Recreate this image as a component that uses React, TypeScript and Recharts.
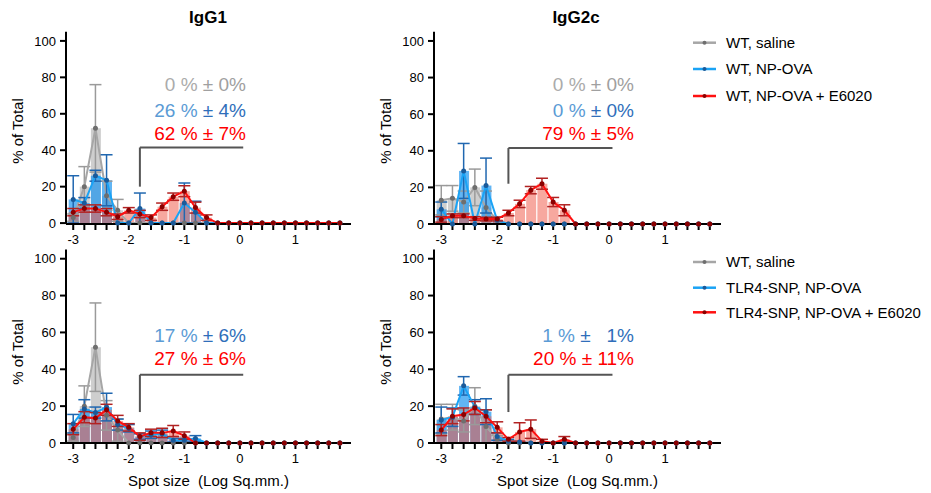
import React from "react";
import { ComposedChart, Bar, Line, XAxis, YAxis, ErrorBar, ReferenceLine } from "recharts";

const FONT = "'Liberation Sans', Arial, Helvetica, sans-serif";

// spot size bins (Log Sq.mm.)
const BINS = [-3, -2.8, -2.6, -2.4, -2.2, -2, -1.8, -1.6, -1.4, -1.2, -1, -0.8, -0.6, -0.4, -0.2, 0, 0.2, 0.4, 0.6, 0.8, 1, 1.2, 1.4, 1.6, 1.8];
const Y_TICKS = [0, 20, 40, 60, 80, 100];

const _ = null;

// IgG1, WT saline (shown in both rows)
const IGG1_SALINE = [3, 20, 52, 15, 7, 0, 0, 0, 0, 0, 0, 0, 0, 0, 0, 0, 0, 0, 0, 0, 0, 0, 0, 0, 0];
const IGG1_SALINE_ERR = [2, 11, 24, 8, 6, _, _, _, _, _, _, _, _, _, _, _, _, _, _, _, _, _, _, _, _];
// IgG1, WT NP-OVA
const IGG1_WT_OVA = [13, 11, 26, 23.5, 0, 0, 8, 0, 0, 0, 11, 6, 0, 0, 0, 0, 0, 0, 0, 0, 0, 0, 0, 0, 0];
const IGG1_WT_OVA_ERR = [13, 3, 3, 14, _, _, 8.5, _, _, _, 11, 6, _, _, _, _, _, _, _, _, _, _, _, _, _];
// IgG1, WT NP-OVA + E6020
const IGG1_WT_E6020 = [6, 8, 8, 6, 3.5, 7, 5, 3, 9, 14.5, 17.5, 8.5, 3, 0, 0, 0, 0, 0, 0, 0, 0, 0, 0, 0, 0];
const IGG1_WT_E6020_ERR = [2, 2, 2, 2, 1.5, 1.5, 2, 1.5, 2, 2, 3, 3, 1.5, _, _, _, _, _, _, _, _, _, _, _, _];
// IgG1, TLR4-SNP NP-OVA
const IGG1_SNP_OVA = [10.5, 18.5, 16.5, 19.5, 10, 8, 3.5, 4.5, 5, 1.5, 1.5, 2.5, 0, 0, 0, 0, 0, 0, 0, 0, 0, 0, 0, 0, 0];
const IGG1_SNP_OVA_ERR = [5, 5, 3, 7.5, 3, 2, 1.5, 2, 2, 1, 1, 1.5, _, _, _, _, _, _, _, _, _, _, _, _, _];
// IgG1, TLR4-SNP NP-OVA + E6020
const IGG1_SNP_E6020 = [7.5, 14, 13.5, 18, 12, 8.5, 3.5, 5.5, 5.5, 6.5, 4, 0, 0, 0, 0, 0, 0, 0, 0, 0, 0, 0, 0, 0, 0];
const IGG1_SNP_E6020_ERR = [3, 3, 3, 3, 3, 2, 2, 2, 2.5, 3, 2, _, _, _, _, _, _, _, _, _, _, _, _, _, _];

// IgG2c, WT saline (shown in both rows)
const IGG2C_SALINE = [13, 14, 12, 20, 9, 2, 0, 0, 0, 0, 0, 0, 0, 0, 0, 0, 0, 0, 0, 0, 0, 0, 0, 0, 0];
const IGG2C_SALINE_ERR = [8, 7, 6, 10, 9, 2, _, _, _, _, _, _, _, _, _, _, _, _, _, _, _, _, _, _, _];
// IgG2c, WT NP-OVA
const IGG2C_WT_OVA = [8, 0, 29, 0, 21, 2, 0, 0, 0, 0, 0, 0, 0, 0, 0, 0, 0, 0, 0, 0, 0, 0, 0, 0, 0];
const IGG2C_WT_OVA_ERR = [4, _, 15, _, 15, _, _, _, _, _, _, _, _, _, _, _, _, _, _, _, _, _, _, _, _];
// IgG2c, WT NP-OVA + E6020
const IGG2C_WT_E6020 = [2.5, 4.5, 4.5, 3, 2.7, 2.7, 6, 11, 18.5, 22, 12, 7.5, 0, 0, 0, 0, 0, 0, 0, 0, 0, 0, 0, 0, 0];
const IGG2C_WT_E6020_ERR = [1.5, 1, 1, 1, 1, 1, 1.5, 2, 2, 3, 2.5, 3, _, _, _, _, _, _, _, _, _, _, _, _, _];
// IgG2c, TLR4-SNP NP-OVA
const IGG2C_SNP_OVA = [12.5, 14, 31, 19.5, 17, 3.5, 1, 0.5, 0, 0, 0, 0, 0, 0, 0, 0, 0, 0, 0, 0, 0, 0, 0, 0, 0];
const IGG2C_SNP_OVA_ERR = [7, 5, 5, 4, 7, 2, 1, _, _, _, _, _, _, _, _, _, _, _, _, _, _, _, _, _, _];
// IgG2c, TLR4-SNP NP-OVA + E6020
const IGG2C_SNP_E6020 = [7, 14.5, 15.5, 19, 14.5, 8.5, 2, 6, 7.5, 1, 0, 2, 0, 0, 0, 0, 0, 0, 0, 0, 0, 0, 0, 0, 0];
const IGG2C_SNP_E6020_ERR = [3, 4, 3.5, 3.5, 3.5, 3, 1, 5, 5, 1, _, 1.5, _, _, _, _, _, _, _, _, _, _, _, _, _];

const TOP_LEGEND = ["WT, saline", "WT, NP-OVA", "WT, NP-OVA + E6020"];
const BOTTOM_LEGEND = ["WT, saline", "TLR4-SNP, NP-OVA", "TLR4-SNP, NP-OVA + E6020"];

const GREY = { line: "#a6a6a6", dot: "#6e6e6e", bar: "#9e9e9e", err: "#9a9a9a" };
const BLUE = { line: "#1aa3f5", dot: "#1a5a9a", bar: "#1e96f0", err: "#2067b0" };
const RED = { line: "#ff1010", dot: "#8b0000", bar: "#f06050", err: "#b22222" };

type Row = { x: number; g: number; gE: number | null; b: number; bE: number | null; r: number; rE: number | null };

function makeRows(g: number[], gE: (number | null)[], b: number[], bE: (number | null)[], r: number[], rE: (number | null)[]): Row[] {
  return BINS.map((x, i) => ({ x, g: g[i], gE: gE[i], b: b[i], bE: bE[i], r: r[i], rE: rE[i] }));
}

const fmtX = (v: number) => (Math.abs(v - Math.round(v)) < 1e-6 ? String(Math.round(v)) : "");

const axisStyle = { stroke: "#000", strokeWidth: 2 };
const tickStyle = { fill: "#000", fontSize: 13, fontFamily: FONT };

type PanelProps = {
  data: Row[];
  left: number;
  top: number;
  height: number;
  marginTop: number;
  plotW: number;
  xAxisHeight: number;
  bracket: [number, number];
  yLabelY: number;
  xLabel?: string;
};

function Panel({ data, left, top, height, marginTop, plotW, xAxisHeight, bracket, yLabelY, xLabel }: PanelProps) {
  const W = 400;
  return (
    <div style={{ position: "absolute", left, top }}>
      <ComposedChart
        width={W}
        height={height}
        data={data}
        margin={{ top: marginTop, right: W - 66 - plotW, left: 0, bottom: 0 }}
        barSize={10}
        barGap={-10}
      >
        <XAxis
          dataKey="x"
          type="number"
          domain={[-3.13, 2]}
          ticks={BINS}
          interval={0}
          tickFormatter={fmtX}
          height={xAxisHeight}
          axisLine={axisStyle}
          tickLine={axisStyle}
          tickSize={6}
          tickMargin={5}
          tick={tickStyle}
          label={xLabel ? { value: xLabel, position: "insideBottom", offset: 7, fill: "#000", fontSize: 15, fontFamily: FONT } : undefined}
        />
        <YAxis
          type="number"
          domain={[0, 105]}
          ticks={Y_TICKS}
          interval={0}
          width={66}
          axisLine={axisStyle}
          tickLine={axisStyle}
          tickSize={6}
          tickMargin={4}
          tick={tickStyle}
          label={() => (
            <text x={17} y={yLabelY} transform={`rotate(-90 17 ${yLabelY})`} textAnchor="middle" dominantBaseline="central" fontSize={15} fontFamily={FONT} fill="#000">
              % of Total
            </text>
          )}
        />
        <Bar dataKey="g" fill={GREY.bar} fillOpacity={0.5} isAnimationActive={false} />
        <Bar dataKey="b" fill={BLUE.bar} fillOpacity={0.7} isAnimationActive={false} />
        <Bar dataKey="r" fill={RED.bar} fillOpacity={0.55} isAnimationActive={false} />
        <Line dataKey="g" stroke={GREY.line} strokeWidth={2} dot={{ r: 2.5, fill: GREY.dot, stroke: GREY.dot, strokeWidth: 0 }} activeDot={false} isAnimationActive={false}>
          <ErrorBar dataKey="gE" width={6} stroke={GREY.err} strokeWidth={1.5} direction="y" />
        </Line>
        <Line dataKey="b" stroke={BLUE.line} strokeWidth={2} dot={{ r: 2.5, fill: BLUE.dot, stroke: BLUE.dot, strokeWidth: 0 }} activeDot={false} isAnimationActive={false}>
          <ErrorBar dataKey="bE" width={6} stroke={BLUE.err} strokeWidth={1.5} direction="y" />
        </Line>
        <Line dataKey="r" stroke={RED.line} strokeWidth={2} dot={{ r: 2.5, fill: RED.dot, stroke: RED.dot, strokeWidth: 0 }} activeDot={false} isAnimationActive={false}>
          <ErrorBar dataKey="rE" width={6} stroke={RED.err} strokeWidth={1.5} direction="y" />
        </Line>
        <ReferenceLine segment={[{ x: -1.8, y: bracket[0] }, { x: -1.8, y: bracket[1] }]} stroke="#555" strokeWidth={2} />
        <ReferenceLine segment={[{ x: -1.8, y: bracket[1] }, { x: 0.06, y: bracket[1] }]} stroke="#555" strokeWidth={2} />
      </ComposedChart>
    </div>
  );
}

function Annot({ x, y, a, b, ca, cb }: { x: number; y: number; a: string; b: string; ca: string; cb: string }) {
  return (
    <text x={x} y={y} textAnchor="end" fontSize={19} fontFamily={FONT}>
      <tspan fill={ca}>{a} </tspan>
      <tspan fill={cb}>{b}</tspan>
    </text>
  );
}

function LegendBlock({ labels, ys }: { labels: string[]; ys: number[] }) {
  const cols = [GREY, BLUE, RED];
  return (
    <g>
      {labels.map((lab, i) => (
        <g key={lab}>
          <line x1={693} x2={716} y1={ys[i]} y2={ys[i]} stroke={cols[i].line} strokeWidth={2.5} />
          <circle cx={704.5} cy={ys[i]} r={2} fill={cols[i].dot} />
          <text x={726} y={ys[i] + 5.4} fontSize={15} fontFamily={FONT} fill="#000">
            {lab}
          </text>
        </g>
      ))}
    </g>
  );
}

export default function App() {
  const tl = makeRows(IGG1_SALINE, IGG1_SALINE_ERR, IGG1_WT_OVA, IGG1_WT_OVA_ERR, IGG1_WT_E6020, IGG1_WT_E6020_ERR);
  const tr = makeRows(IGG2C_SALINE, IGG2C_SALINE_ERR, IGG2C_WT_OVA, IGG2C_WT_OVA_ERR, IGG2C_WT_E6020, IGG2C_WT_E6020_ERR);
  const bl = makeRows(IGG1_SALINE, IGG1_SALINE_ERR, IGG1_SNP_OVA, IGG1_SNP_OVA_ERR, IGG1_SNP_E6020, IGG1_SNP_E6020_ERR);
  const br = makeRows(IGG2C_SALINE, IGG2C_SALINE_ERR, IGG2C_SNP_OVA, IGG2C_SNP_OVA_ERR, IGG2C_SNP_E6020, IGG2C_SNP_E6020_ERR);
  const xLab = "Spot size\u00A0\u00A0(Log Sq.mm.)";

  return (
    <div style={{ position: "relative", width: 931, height: 493, background: "#fff", fontFamily: FONT }}>
      <style>{"body{margin:0}"}</style>
      <Panel data={tl} left={0} top={0} height={250} marginTop={31.8} plotW={285} xAxisHeight={26} bracket={[20, 41.5]} yLabelY={131} />
      <Panel data={tr} left={368} top={0} height={250} marginTop={31.8} plotW={287} xAxisHeight={26} bracket={[22, 41.5]} yLabelY={131} />
      <Panel data={bl} left={0} top={220} height={273} marginTop={29.5} plotW={285} xAxisHeight={50} bracket={[16.8, 37]} yLabelY={132} xLabel={xLab} />
      <Panel data={br} left={368} top={220} height={273} marginTop={29.5} plotW={287} xAxisHeight={50} bracket={[16.8, 37]} yLabelY={132} xLabel={xLab} />

      <svg width={931} height={493} style={{ position: "absolute", left: 0, top: 0, pointerEvents: "none" }}>
        <text x={208} y={23} textAnchor="middle" fontSize={17} fontWeight="bold" fontFamily={FONT} fill="#000">IgG1</text>
        <text x={576} y={23} textAnchor="middle" fontSize={17} fontWeight="bold" fontFamily={FONT} fill="#000">IgG2c</text>

        <Annot x={246} y={90.5} a="0 %" b="± 0%" ca="#ababab" cb="#a0a0a0" />
        <Annot x={246} y={116.5} a="26 %" b="± 4%" ca="#5b9bd5" cb="#2f6eba" />
        <Annot x={246} y={140} a="62 %" b="± 7%" ca="#ff0000" cb="#ff0000" />

        <Annot x={634} y={90.5} a="0 %" b="± 0%" ca="#ababab" cb="#a0a0a0" />
        <Annot x={634} y={116.5} a="0 %" b="± 0%" ca="#5b9bd5" cb="#2f6eba" />
        <Annot x={634} y={140} a="79 %" b="± 5%" ca="#ff0000" cb="#ff0000" />

        <Annot x={246} y={341.7} a="17 %" b="± 6%" ca="#5b9bd5" cb="#2f6eba" />
        <Annot x={246} y={365} a="27 %" b="± 6%" ca="#ff0000" cb="#ff0000" />

        <Annot x={634} y={341.7} a="1 %" b={"±\u00A0\u00A0\u00A01%"} ca="#5b9bd5" cb="#2f6eba" />
        <Annot x={634} y={365} a="20 %" b="± 11%" ca="#ff0000" cb="#ff0000" />

        <LegendBlock labels={TOP_LEGEND} ys={[42.7, 69, 96]} />
        <LegendBlock labels={BOTTOM_LEGEND} ys={[262, 287.7, 312.3]} />
      </svg>
    </div>
  );
}
